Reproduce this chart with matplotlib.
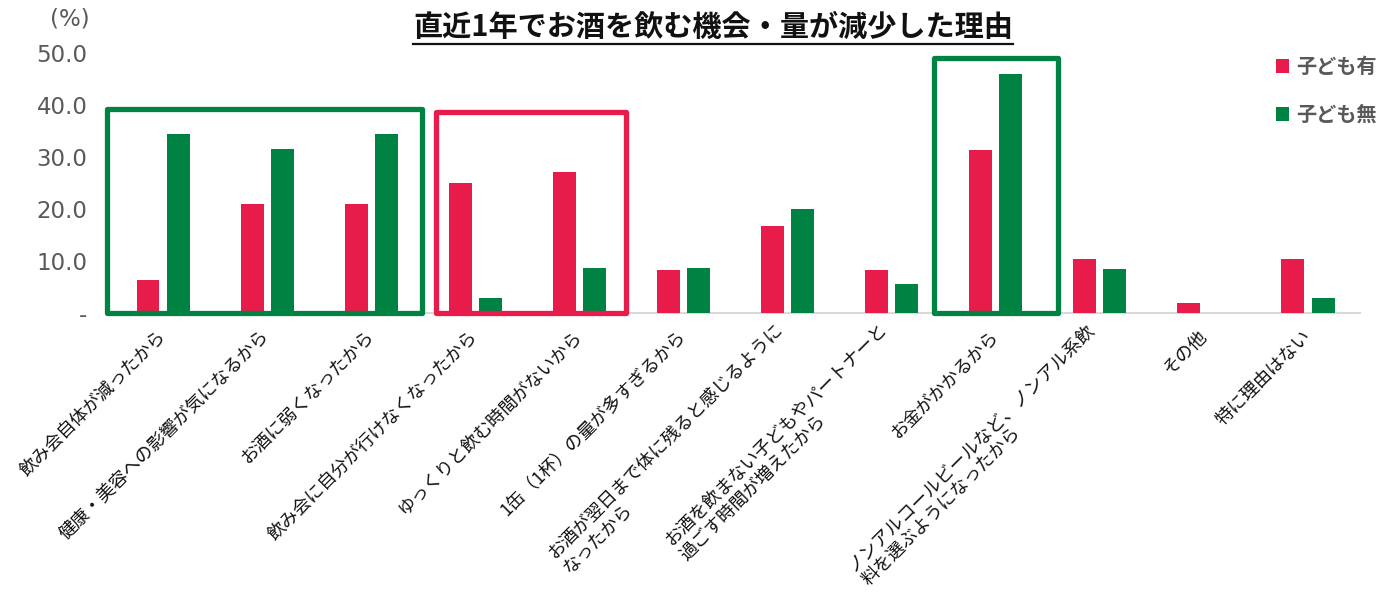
import matplotlib
matplotlib.use('Agg')
import matplotlib.pyplot as plt
import matplotlib.patches as patches
from matplotlib.lines import Line2D
import numpy as np

plt.rcParams['font.family'] = ['Noto Sans CJK JP', 'DejaVu Sans']

# Reasons (x categories), two groups of respondents
categories = [
    '飲み会自体が減ったから',
    '健康・美容への影響が気になるから',
    'お酒に弱くなったから',
    '飲み会に自分が行けなくなったから',
    'ゆっくりと飲む時間がないから',
    '1缶（1杯）の量が多すぎるから',
    'お酒が翌日まで体に残ると感じるように\nなったから',
    'お酒を飲まない子どもやパートナーと\n過ごす時間が増えたから',
    'お金がかかるから',
    'ノンアルコールビールなど、ノンアル系飲\n料を選ぶようになったから',
    'その他',
    '特に理由はない',
]
series_names = ['子ども有', '子ども無']
with_kids = [6.3, 20.9, 20.9, 25.0, 27.1, 8.3, 16.7, 8.3, 31.3, 10.4, 2.0, 10.4]
without_kids = [34.4, 31.4, 34.4, 2.9, 8.7, 8.7, 20.0, 5.6, 45.8, 8.5, 0.0, 2.8]
yticks = [0, 10, 20, 30, 40, 50]
ytick_labels = ['-', '10.0', '20.0', '30.0', '40.0', '50.0']

RED = '#E81C4A'
GREEN = '#008242'
GRAY = '#595959'

# Highlight frames: (x from, x to, top) in category / value units
highlights = [
    (-0.54, 2.49, 39.2, GREEN),
    (2.625, 4.45, 38.6, RED),
    (7.41, 8.60, 48.9, GREEN),
]

fig = plt.figure(figsize=(13.81, 5.94), dpi=100)
ax = fig.add_axes([0.0804, 0.4731, 0.9044, 0.4385])

x = np.arange(len(categories))
w = 0.22
off = 0.145
ax.bar(x - off, with_kids, w, color=RED, label=series_names[0], zorder=3)
ax.bar(x + off, without_kids, w, color=GREEN, label=series_names[1], zorder=3)

ax.set_xlim(-0.5, len(categories) - 0.5)
ax.set_ylim(0, 50)
ax.set_yticks(yticks)
ax.set_yticklabels(ytick_labels, family='DejaVu Sans', fontsize=16.5, color=GRAY)
ax.tick_params(axis='y', length=0, pad=17)
ax.set_xticks(x)
ax.set_xticklabels(categories, rotation=45, ha='right', va='center',
                   rotation_mode='anchor', multialignment='left',
                   fontsize=13, color='#111111')
ax.tick_params(axis='x', length=0, pad=15)
for s in ('top', 'right', 'left'):
    ax.spines[s].set_visible(False)
ax.spines['bottom'].set_color('#D9D9D9')
ax.spines['bottom'].set_linewidth(1.5)

for x0, x1, top, col in highlights:
    ax.add_patch(patches.Rectangle(
        (x0, -0.1), x1 - x0, top + 0.1, fill=False, edgecolor=col,
        linewidth=3.8, joinstyle='round', clip_on=False, zorder=4))

fig.text(70 / 1381, 1 - 19 / 594, '(%)', family='DejaVu Sans', fontsize=16.5,
         color=GRAY, ha='center', va='center')

title = fig.text(713 / 1381, 1 - 27 / 594, '直近1年でお酒を飲む機会・量が減少した理由',
                 fontsize=21, fontweight='bold', ha='center', va='center',
                 color='#111111')

ax.legend(loc='upper left', bbox_to_anchor=(1276 / 1381, 1 - 56 / 594),
          bbox_transform=fig.transFigure, frameon=False, borderpad=0,
          borderaxespad=0, handlelength=0.65, handleheight=0.65,
          handletextpad=0.35, labelspacing=1.35,
          prop={'weight': 'bold', 'size': 14.5}, labelcolor=GRAY)

# Underline the title
renderer = fig.canvas.get_renderer()
bb = title.get_window_extent(renderer)
W, H = fig.bbox.width, fig.bbox.height
uy = (bb.y0 - 2) / H
fig.add_artist(Line2D([bb.x0 / W, bb.x1 / W], [uy, uy], color='#111111',
                      linewidth=1.6, transform=fig.transFigure))

fig.savefig('out.png', dpi=100)
